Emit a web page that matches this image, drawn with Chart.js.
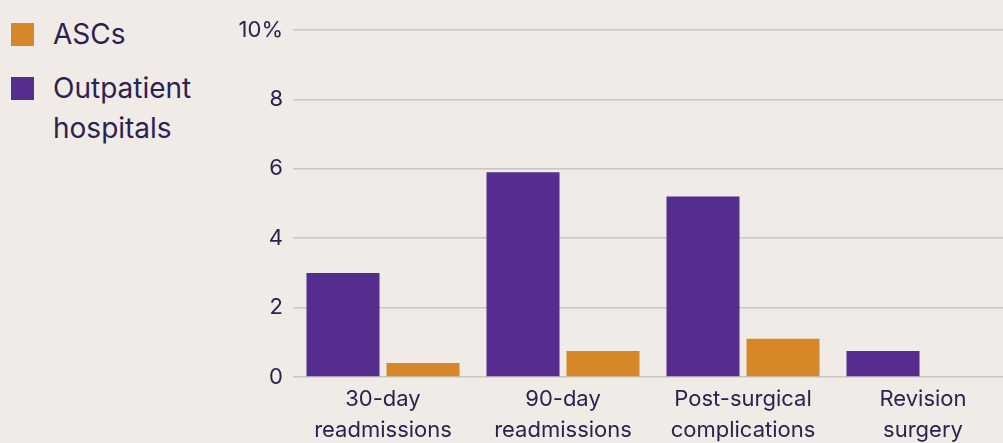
<!DOCTYPE html>
<html lang="en">
<head>
  <meta charset="UTF-8">
  <title>Complications: ASCs vs outpatient hospitals</title>
  <script src="https://cdn.jsdelivr.net/npm/chart.js"></script>
  <style>
    html, body { margin:0; padding:0; background:#f0ebe7; overflow:hidden; }
    body { width:1003px; height:443px; position:relative; font-family:Inter, "Noto Sans", sans-serif; color:#2d2150; }
    #legend { position:absolute; left:11px; top:19px; }
    .item { display:flex; align-items:flex-start; margin-bottom:19px; }
    .sw { width:23px; height:23px; margin-top:4px; margin-right:19px; flex:none; }
    .txt { font-size:28px; line-height:40px; margin-top:-5px; }
    #wrap { position:absolute; left:0; top:0; }
  </style>
</head>
<body>
  <div id="legend"></div>
  <div id="wrap"><canvas id="chart" width="1013" height="443"></canvas></div>

<script>
const categories = [['30-day', 'readmissions'], ['90-day', 'readmissions'], ['Post-surgical', 'complications'], ['Revision', 'surgery']];
const outpatientVals = [3.0, 5.9, 5.2, 0.75];
const ascVals = [0.4, 0.75, 1.1, 0];
const yTickLabels = ['0', '2', '4', '6', '8', '10%'];
const seriesNames = ['Outpatient hospitals', 'ASCs'];
const legendText = { 'ASCs': ['ASCs'], 'Outpatient hospitals': ['Outpatient', 'hospitals'] };

const PURPLE = '#552d8f', ORANGE = '#d68828', TEXT = '#2d2150', GRID = '#c9c5c1';

const chart = new Chart(document.getElementById('chart'), {
  type: 'bar',
  data: {
    labels: categories,
    datasets: [
      { label: seriesNames[0], data: outpatientVals, backgroundColor: PURPLE },
      { label: seriesNames[1], data: ascVals, backgroundColor: ORANGE }
    ]
  },
  options: {
    responsive: false,
    animation: false,
    layout: { padding: { top: 30, right: 0, bottom: 0, left: 0 } },
    datasets: { bar: { categoryPercentage: 160 / 180, barPercentage: 73 / 80 } },
    plugins: { legend: { display: false }, tooltip: { enabled: false } },
    scales: {
      x: {
        grid: { display: false, drawTicks: false },
        border: { display: false },
        ticks: { color: TEXT, font: { family: 'Inter', size: 22, lineHeight: 1.4 }, padding: 7, maxRotation: 0, autoSkip: false },
        afterFit: s => { s.height = 66; }
      },
      y: {
        min: 0, max: 10,
        grid: { color: GRID, lineWidth: 1.5, drawTicks: false },
        border: { display: false },
        ticks: {
          stepSize: 2, padding: 10, color: TEXT,
          font: { family: 'Inter', size: 22 },
          callback: v => yTickLabels[v / 2]
        },
        afterFit: s => { s.width = 293; }
      }
    }
  }
});

// legend on the left, ASCs listed first
const lg = document.getElementById('legend');
chart.data.datasets.slice().reverse().forEach(ds => {
  const row = document.createElement('div');
  row.className = 'item';
  const sw = document.createElement('div');
  sw.className = 'sw';
  sw.style.background = ds.backgroundColor;
  const t = document.createElement('div');
  t.className = 'txt';
  t.innerHTML = legendText[ds.label].join('<br>');
  row.appendChild(sw); row.appendChild(t);
  lg.appendChild(row);
});
</script>
</body>
</html>
